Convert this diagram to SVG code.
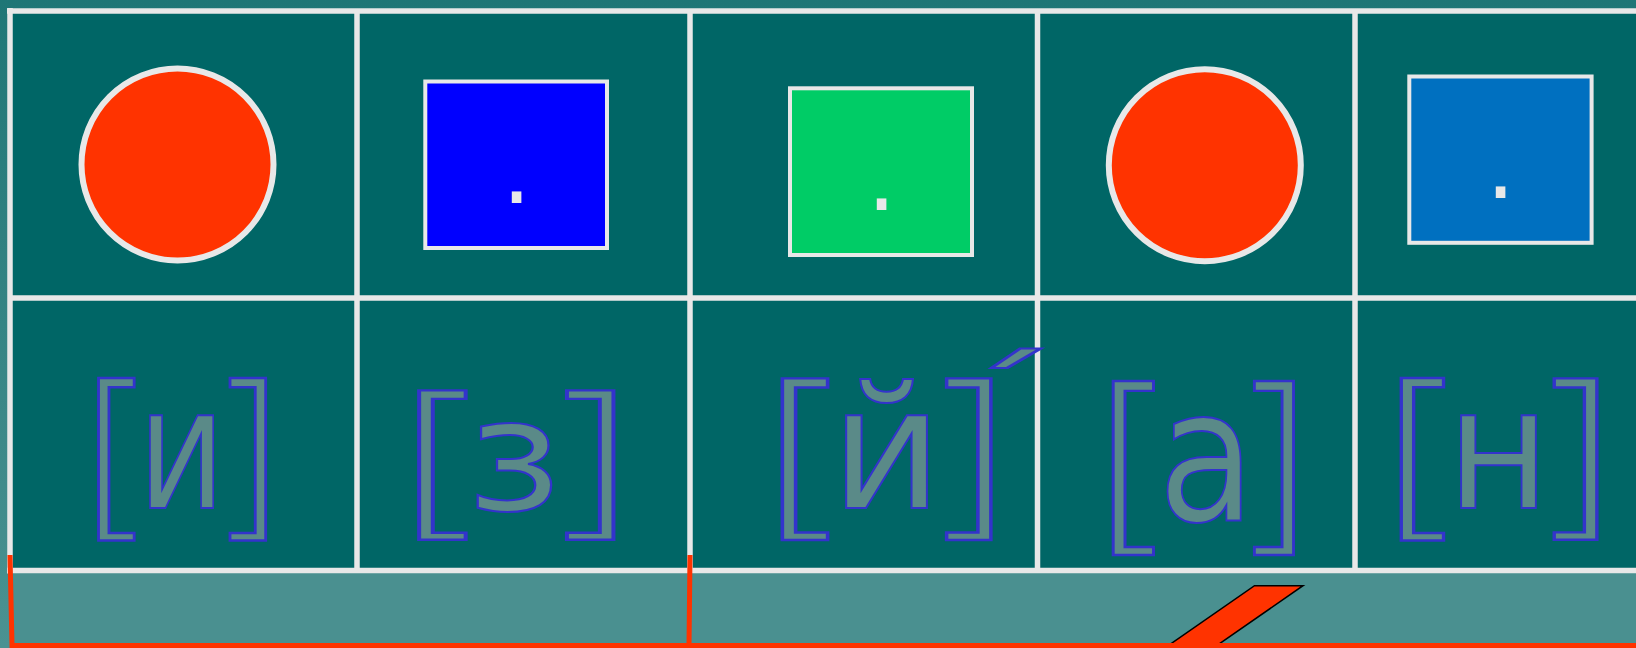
<svg xmlns="http://www.w3.org/2000/svg" width="1636" height="648" viewBox="0 0 1636 648">
<defs>
<linearGradient id="bg" x1="0" y1="0" x2="0" y2="1">
<stop offset="0" stop-color="#1f7676"/>
<stop offset="1" stop-color="#4b9292"/>
</linearGradient>
<style>
.gl{stroke:#e8e8e8;stroke-width:5.5;fill:none}
.fig{stroke:#e8e8e8;stroke-width:4}
.circ{fill:#ff3300;stroke:#e8e8e8;stroke-width:6}
.dot{font-family:"DejaVu Sans",sans-serif;font-size:92px;fill:#e8e8e8;text-anchor:middle}
.snd{font-family:"DejaVu Sans",sans-serif;fill:#5a8a88;stroke:#3333cc;stroke-width:2}
.br{font-weight:200;stroke-width:2.4}
.red{stroke:#ff3300;stroke-width:5;fill:none;stroke-linejoin:miter}
</style>
</defs>
<rect x="0" y="0" width="1636" height="648" fill="url(#bg)"/>
<rect x="10" y="11" width="1626" height="559.5" fill="#006666"/>
<rect x="10" y="573" width="1626" height="75" fill="#4a9090"/>
<g id="grid">
<line class="gl" x1="7" y1="11" x2="1636" y2="11"/>
<line class="gl" x1="10" y1="298" x2="1636" y2="298"/>
<line class="gl" x1="7" y1="570.5" x2="1636" y2="570.5"/>
<line class="gl" x1="10" y1="8" x2="10" y2="573.5"/>
<line class="gl" x1="357" y1="11" x2="357" y2="570.5"/>
<line class="gl" x1="690" y1="11" x2="690" y2="570.5"/>
<line class="gl" x1="1037.5" y1="11" x2="1037.5" y2="570.5"/>
<line class="gl" x1="1355" y1="11" x2="1355" y2="570.5"/>
</g>
<g id="scheme-1"><circle class="circ" cx="177.5" cy="164.5" r="96"/></g>
<g id="scheme-2"><rect class="fig" x="425.3" y="81.5" width="181.7" height="166.5" fill="#0000ff"/><text class="dot" x="516.5" y="203">.</text></g>
<g id="scheme-3"><rect class="fig" x="790" y="88.3" width="182" height="166.7" fill="#00cc66"/><text class="dot" x="881.5" y="210">.</text></g>
<g id="scheme-4"><circle class="circ" cx="1204.8" cy="165.2" r="96"/></g>
<g id="scheme-5"><rect class="fig" x="1409.3" y="76.5" width="182.3" height="166.3" fill="#0070c0"/><text class="dot" x="1500.5" y="198">.</text></g>
<g id="sound-1"><text class="snd"><tspan class="br" x="74.3" y="516.1" font-size="181.3" textLength="83.6" lengthAdjust="spacingAndGlyphs">[</tspan><tspan x="137.7" y="507.7" font-size="169.5" textLength="87.7" lengthAdjust="spacingAndGlyphs">и</tspan><tspan class="br" x="205.7" y="516.1" font-size="181.3" textLength="83.6" lengthAdjust="spacingAndGlyphs">]</tspan></text></g>
<g id="sound-2"><text class="snd"><tspan class="br" x="387.5" y="517.6" font-size="167.5" textLength="109" lengthAdjust="spacingAndGlyphs">[</tspan><tspan x="466.1" y="509.5" font-size="155.7" textLength="95.8" lengthAdjust="spacingAndGlyphs">з</tspan><tspan class="br" x="535.3" y="517.6" font-size="167.5" textLength="109" lengthAdjust="spacingAndGlyphs">]</tspan></text></g>
<g id="sound-3"><text class="snd"><tspan class="br" x="751.6" y="516.1" font-size="181.3" textLength="106" lengthAdjust="spacingAndGlyphs">[</tspan><tspan x="830.4" y="507.7" font-size="169.5" textLength="112.1" lengthAdjust="spacingAndGlyphs">й</tspan><tspan class="br" x="916.5" y="516.1" font-size="181.3" textLength="103.7" lengthAdjust="spacingAndGlyphs">]</tspan></text><text class="snd" font-size="100" transform="translate(953.5 432.8) scale(2.1 1.05)">´</text></g>
<g id="sound-4"><text class="snd"><tspan class="br" x="1085.7" y="529.3" font-size="195.1" textLength="94.5" lengthAdjust="spacingAndGlyphs">[</tspan><tspan x="1158" y="519.8" font-size="183" textLength="97" lengthAdjust="spacingAndGlyphs">а</tspan><tspan class="br" x="1227.8" y="529.3" font-size="195.1" textLength="91.7" lengthAdjust="spacingAndGlyphs">]</tspan></text></g>
<g id="sound-5"><text class="snd"><tspan class="br" x="1372.4" y="515.9" font-size="181" textLength="99.1" lengthAdjust="spacingAndGlyphs">[</tspan><tspan x="1446.7" y="508" font-size="170" textLength="103.5" lengthAdjust="spacingAndGlyphs">н</tspan><tspan class="br" x="1525.2" y="515.9" font-size="181" textLength="100" lengthAdjust="spacingAndGlyphs">]</tspan></text></g>
<g id="connectors">
<polygon points="1254.5,585.7 1303,585.7 1196,660 1147.5,660" fill="#ff3300" stroke="#000" stroke-width="1.5"/>
<path class="red" d="M10 555 L12 645.5 L1636 645.5 M690 555 L689 645.5"/>
</g>
</svg>
